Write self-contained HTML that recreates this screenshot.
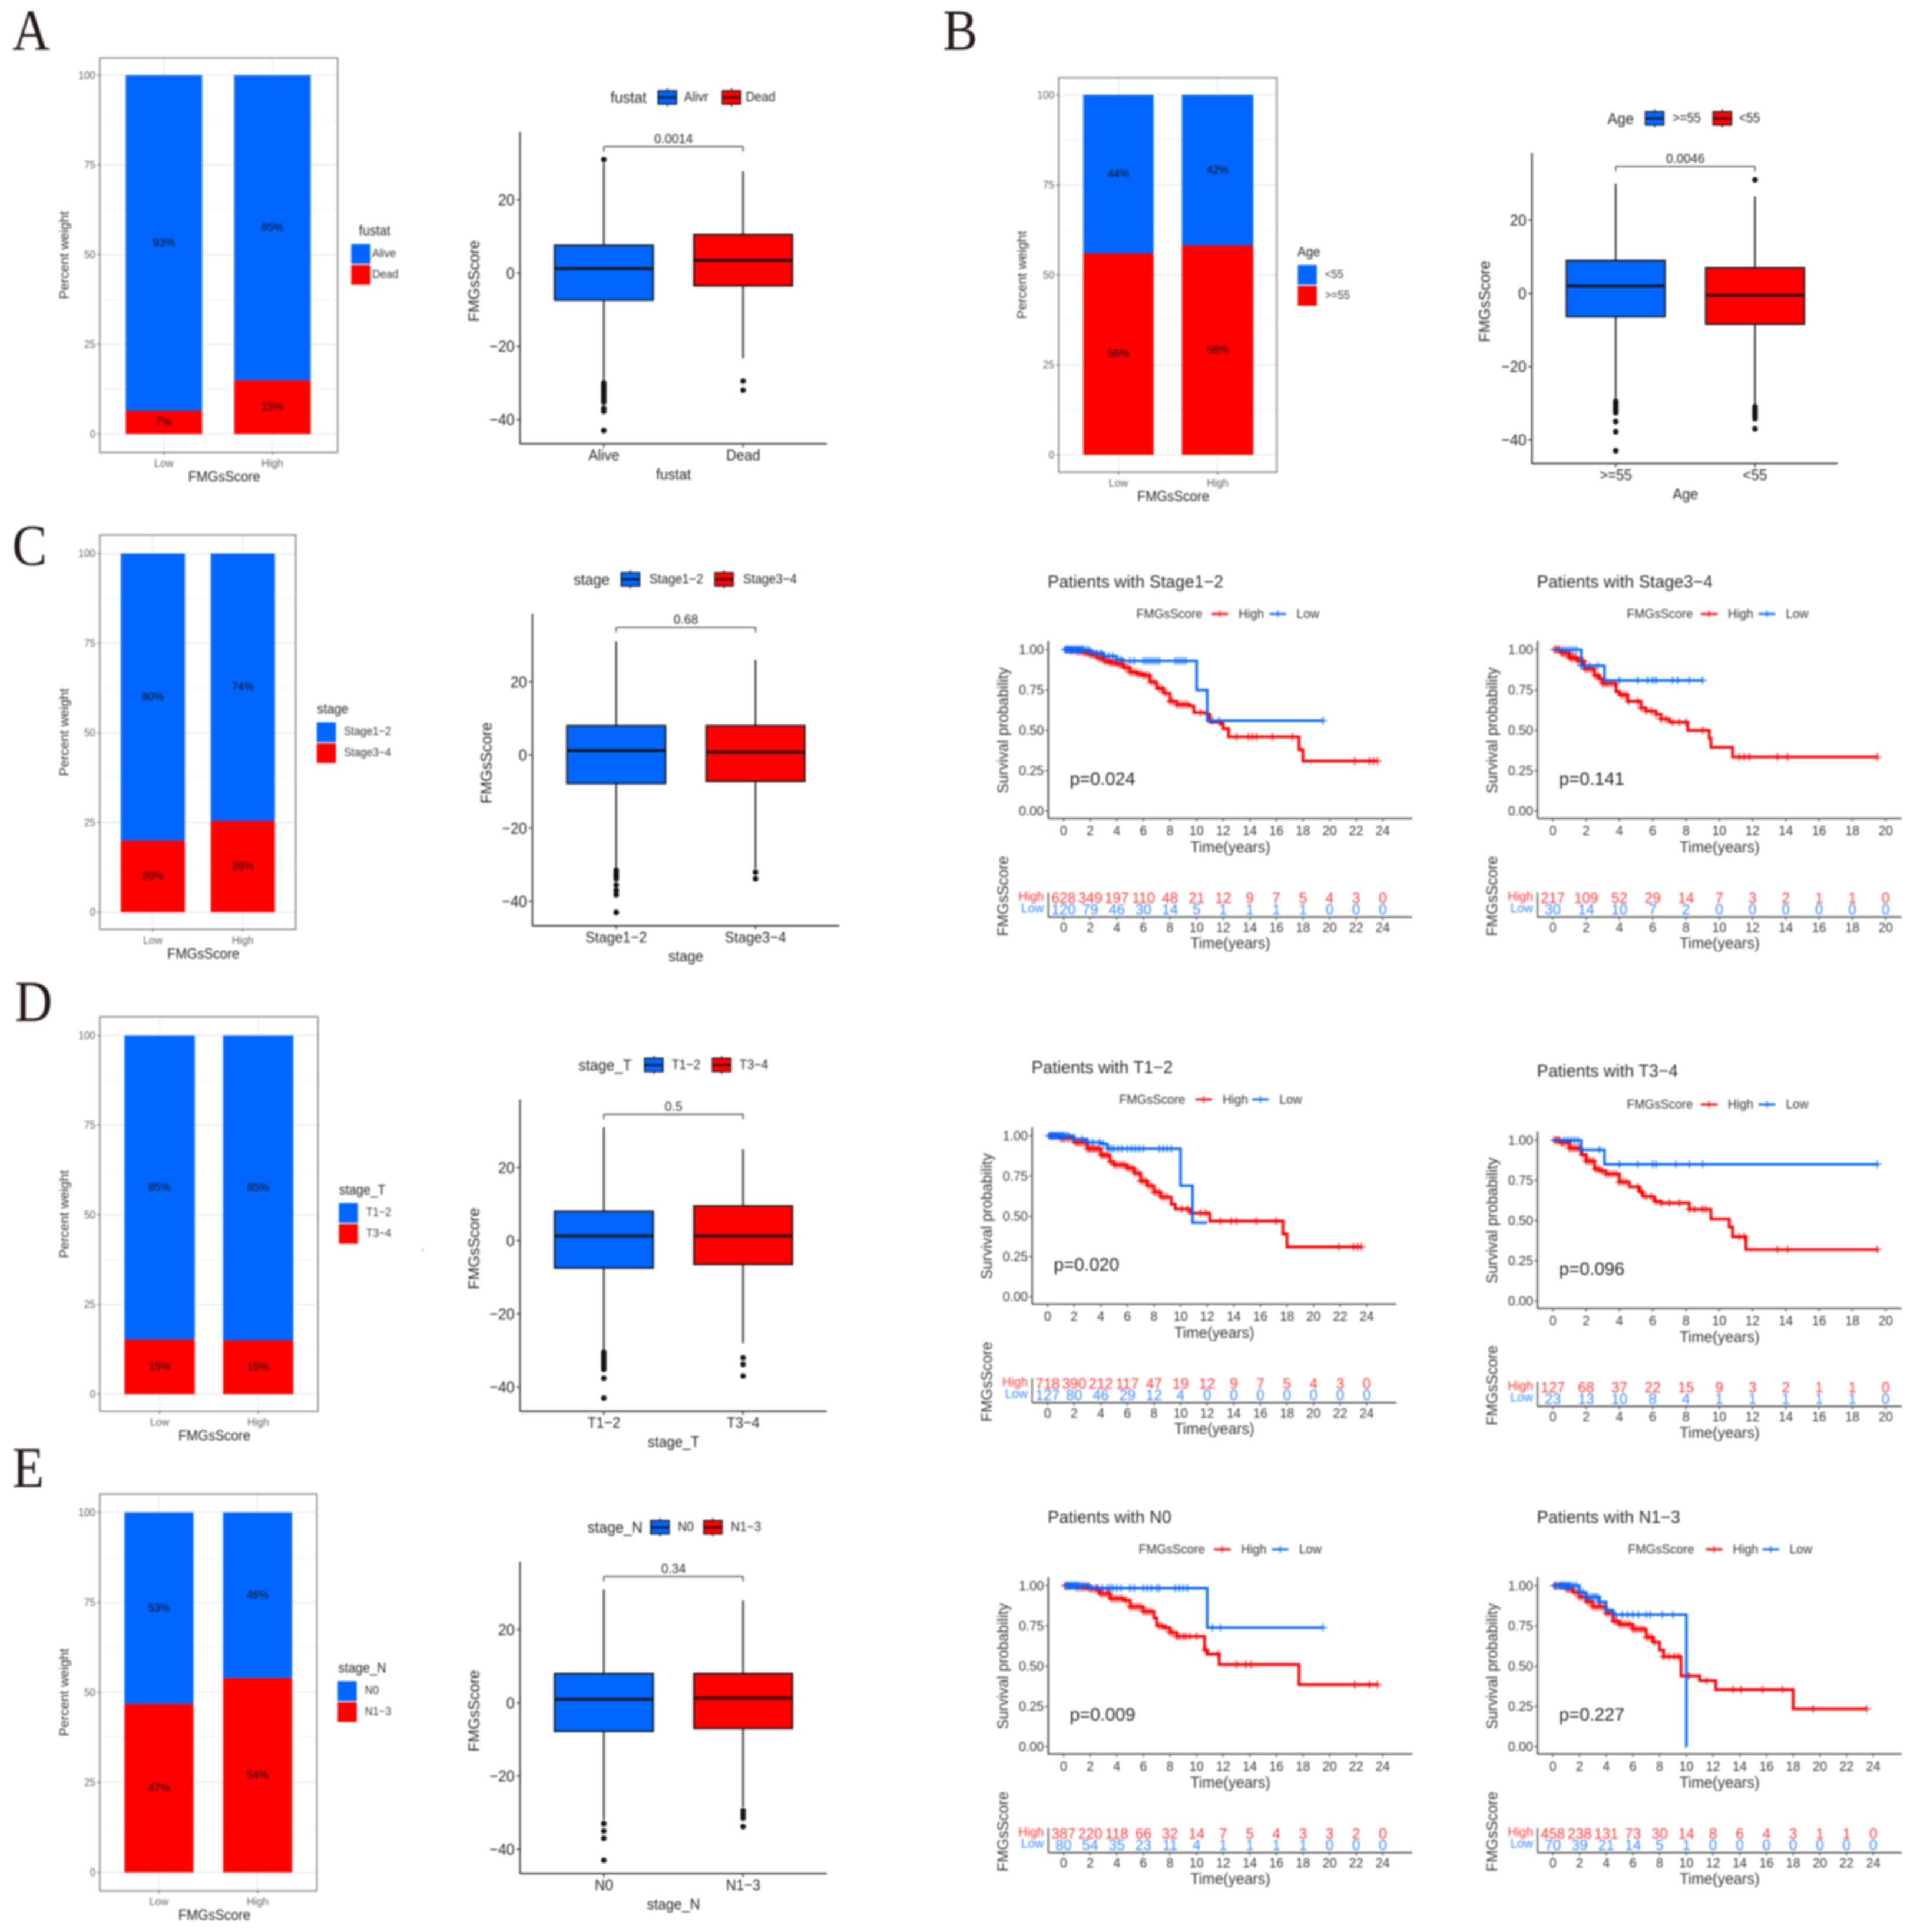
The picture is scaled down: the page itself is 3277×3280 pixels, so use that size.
<!DOCTYPE html>
<html lang="en">
<head>
<meta charset="utf-8">
<title>FMGsScore composite figure</title>
<style>
html,body{margin:0;padding:0;background:#fff;}
svg{display:block;filter:blur(1.5px);}
text{font-family:"Liberation Sans",Arial,sans-serif;dominant-baseline:central;}
</style>
</head>
<body>
<svg id="fig" xmlns="http://www.w3.org/2000/svg" width="3277" height="3280" viewBox="0 0 1566 1567.4"></svg>
<script>
/* ---------- stacked bar data (percent of the red, lower segment) ---------- */
const barCategories = ['Low','High'];
const barTicks = [0,25,50,75,100];
const barMinorTicks = [12.5,37.5,62.5,87.5];
const barALower = [6.5,15];
const barALowerText = ['7%','15%'];
const barAUpperText = ['93%','85%'];
const barBLower = [56,58.2];
const barBLowerText = ['56%','58%'];
const barBUpperText = ['44%','42%'];
const barCLower = [20,25.5];
const barCLowerText = ['20%','26%'];
const barCUpperText = ['80%','74%'];
const barDLower = [15.2,15];
const barDLowerText = ['15%','15%'];
const barDUpperText = ['85%','85%'];
const barELower = [46.8,54];
const barELowerText = ['47%','54%'];
const barEUpperText = ['53%','46%'];

/* ---------- box plot data ---------- */
const boxTicks = [20,0,-20,-40];
const boxACats = ['Alive','Dead'];
const boxALegend = ['Alivr','Dead'];
const boxAQ3 = [7.6,10.5];
const boxAMed = [1.2,3.5];
const boxAQ1 = [-7.4,-3.5];
const boxAHi = [30,27.8];
const boxALo = [-29.5,-23.3];
const boxAOut0 = [31,-30,-30.8,-31.5,-32.2,-33,-33.8,-34.6,-35.3,-37,-37.8,-43];
const boxAOut1 = [-29.5,-32];
const boxBCats = ['>=55','<55'];
const boxBQ3 = [9,7];
const boxBMed = [2,-0.5];
const boxBQ1 = [-6.4,-8.4];
const boxBHi = [30,26.5];
const boxBLo = [-29,-30.5];
const boxBOut0 = [-29.5,-30.2,-31,-31.8,-32.6,-35,-37.8,-43];
const boxBOut1 = [31,-31,-31.8,-32.6,-33.4,-34.2,-37];
const boxCCats = ['Stage1\u22122','Stage3\u22124'];
const boxCQ3 = [8,8];
const boxCMed = [1.2,0.8];
const boxCQ1 = [-7.8,-7.2];
const boxCHi = [31,26];
const boxCLo = [-31,-31];
const boxCOut0 = [-31.5,-32.3,-33,-33.8,-35.5,-37,-38.2,-43];
const boxCOut1 = [-32,-33.8];
const boxDCats = ['T1\u22122','T3\u22124'];
const boxDQ3 = [8,9.5];
const boxDMed = [1.3,1.3];
const boxDQ1 = [-7.5,-6.5];
const boxDHi = [31,25];
const boxDLo = [-30,-28];
const boxDOut0 = [-30.5,-31.3,-32,-32.8,-33.6,-34.4,-35.2,-37.6,-43];
const boxDOut1 = [-32,-33.8,-37];
const boxECats = ['N0','N1\u22123'];
const boxEQ3 = [8,8];
const boxEMed = [1,1.3];
const boxEQ1 = [-7.8,-7];
const boxEHi = [31,28];
const boxELo = [-32,-28.5];
const boxEOut0 = [-33,-35,-37,-43];
const boxEOut1 = [-29.5,-30.5,-31.5,-33.8];

/* ---------- Kaplan-Meier data ---------- */
const kmYTicks = [0,0.25,0.5,0.75,1];
const kmYTickText = ['0.00','0.25','0.50','0.75','1.00'];
const kmTicks24 = [0,2,4,6,8,10,12,14,16,18,20,22,24];
const kmTicks20 = [0,2,4,6,8,10,12,14,16,18,20];

const s12HighT = [0,0.5,1,1.5,2,2.5,3,3.5,4,4.5,5,5.5,6,6.5,7,7.5,8,8.5,9.5,9.8,10.8,11,11.8,12,12.4,17.7,18,23.6];
const s12HighS = [1,0.995,0.99,0.98,0.97,0.95,0.93,0.92,0.91,0.89,0.86,0.85,0.84,0.80,0.76,0.73,0.68,0.66,0.65,0.61,0.60,0.55,0.54,0.51,0.46,0.38,0.31,0.31];
const s12HighC = [0.1,0.2,0.3,0.4,0.5,0.65,0.8,1,1.15,1.3,1.45,1.6,1.8,2,2.15,2.3,2.45,2.6,2.75,2.9,3.05,3.2,3.35,3.5,3.65,3.8,3.95,4.1,4.25,4.4,4.6,4.8,5,5.2,5.4,5.6,5.8,6,6.2,6.4,6.6,6.8,7.2,7.4,7.7,8,8.2,8.5,8.7,8.9,9.1,9.3,10.3,10.8,11.7,13,13.9,14.2,14.5,15.7,17.2,21.9,23,23.3,23.6];
const s12LowT = [0,1.5,2,3,4,4.5,10,10.8,19.5];
const s12LowS = [1,1,0.98,0.96,0.94,0.93,0.75,0.56,0.56];
const s12LowC = [0.1,0.2,0.3,0.4,0.5,0.6,0.7,0.8,0.9,1,1.1,1.2,1.3,1.4,1.5,1.7,1.9,2.2,2.5,2.8,3.1,3.4,3.7,4,4.3,5,5.3,6,6.2,6.4,6.6,6.8,7,7.2,8.4,8.6,8.8,9,9.2,11.2,11.7,19.5];
const s34HighT = [0,0.5,1,1.5,1.9,2.5,2.8,3,3.8,4,4.5,4.7,5.3,5.6,6.2,6.5,7,7.1,8.1,9.4,9.5,10.8,19.5];
const s34HighS = [1,0.98,0.95,0.93,0.88,0.84,0.82,0.79,0.74,0.72,0.68,0.68,0.64,0.62,0.60,0.57,0.55,0.55,0.50,0.45,0.395,0.335,0.335];
const s34HighC = [0.1,0.2,0.3,0.4,0.5,0.6,0.7,0.8,0.9,1,1.1,1.2,1.3,1.4,1.5,1.65,1.8,1.95,2.1,2.25,2.4,2.55,2.7,2.85,3,3.15,3.3,3.5,3.7,4.1,4.25,4.4,4.55,5.1,5.3,5.6,5.9,6.2,6.5,6.8,7.2,7.6,8,9,11.2,11.5,11.8,13.5,14.1,19.5];
const s34LowT = [0,1.7,3.1,9];
const s34LowS = [1,0.90,0.81,0.81];
const s34LowC = [0.6,0.8,1,1.2,1.4,1.7,2.2,2.7,4,5.1,5.7,6,6.2,7.2,7.5,8.2,9];
const t12HighT = [0,1,2,3,4,4.7,5,6,6.5,7,7.5,8,8.5,9.3,9.6,10.7,12.2,17.7,18,23.6];
const t12HighS = [1,0.985,0.96,0.92,0.88,0.84,0.82,0.80,0.77,0.72,0.69,0.65,0.62,0.575,0.545,0.52,0.47,0.39,0.31,0.31];
const t12HighC = [0.1,0.25,0.4,0.55,0.7,0.85,1,1.15,1.3,1.5,1.7,1.9,2.1,2.25,2.4,2.55,2.7,2.85,3,3.15,3.3,3.45,3.6,3.75,3.9,4.05,4.2,4.35,4.5,4.75,5,5.2,5.4,5.6,5.8,6,6.2,6.4,6.6,6.8,7,7.2,7.4,7.6,7.8,8,8.2,8.4,8.6,8.8,9,10.1,10.5,11.5,11.9,13,13.8,14.2,15.7,17.2,21.9,23,23.3,23.6];
const t12LowT = [0,1.5,2,3,4,4.5,10,10.9,12];
const t12LowS = [1,1,0.98,0.96,0.95,0.92,0.69,0.46,0.46];
const t12LowC = [0.1,0.2,0.3,0.4,0.5,0.6,0.7,0.8,0.9,1,1.1,1.2,1.3,1.45,1.6,2,2.6,3,3.4,3.9,4.2,4.6,4.8,5,5.3,5.6,6,6.3,6.6,6.9,7.2,8.4,8.7,9,9.3];
const t34HighT = [0,0.5,1,1.7,2,2.5,2.8,3.2,4,4.6,5.2,5.4,6.1,6.5,8.2,9.5,10.6,10.8,11.6,19.5];
const t34HighS = [1,0.985,0.95,0.91,0.87,0.82,0.81,0.79,0.74,0.71,0.68,0.65,0.62,0.61,0.57,0.51,0.46,0.40,0.32,0.32];
const t34HighC = [0.1,0.2,0.3,0.4,0.5,0.6,0.7,0.85,1,1.15,1.3,1.45,1.6,1.8,2,2.15,2.3,2.45,2.6,2.75,2.95,3.2,3.4,3.6,3.8,4,4.2,4.4,5.1,5.3,5.6,5.9,6.2,6.5,7,7.6,8.2,8.5,9,9.2,11.2,11.5,13.5,14.1,19.5];
const t34LowT = [0,1.7,3.1,19.5];
const t34LowS = [1,0.94,0.85,0.85];
const t34LowC = [0.7,0.9,1.1,1.3,1.5,1.7,2.8,4,5.1,6,6.2,7.4,8.2,9,19.5];
const n0HighT = [0,1,2,2.7,3.5,4.5,5,6,6.8,7,7.5,8,8.5,10.6,10.8,11.7,17.7,23.6];
const n0HighS = [1,0.99,0.98,0.95,0.92,0.91,0.87,0.84,0.80,0.75,0.74,0.71,0.685,0.60,0.575,0.51,0.385,0.385];
const n0HighC = [0.1,0.2,0.3,0.45,0.6,0.8,1,1.2,1.4,1.6,1.8,2,2.2,2.4,2.6,2.8,3,3.2,3.4,3.6,3.8,4,4.2,4.4,4.7,5,5.2,5.4,5.6,5.8,6,6.2,6.4,6.6,7.2,7.4,7.7,8,8.2,8.5,8.7,9,9.2,9.5,10,10.7,11.6,13,13.7,14.1,21.9,23,23.6];
const n0LowT = [0,2,10.8,19.5];
const n0LowS = [1,0.985,0.74,0.74];
const n0LowC = [0.2,0.3,0.4,0.5,0.6,0.7,0.8,0.9,1,1.1,1.2,1.35,1.5,1.7,1.9,2.5,2.9,3.3,3.5,3.7,4,4.3,5,5.3,6,6.3,6.6,7,7.2,8.4,8.7,9,9.3,11.2,11.8,19.5];
const n13HighT = [0,1,1.5,2,2.5,3,4,4.5,5,6,7,7.5,8,8.3,9.6,10.7,11,12.2,18,23.5];
const n13HighS = [1,0.98,0.96,0.93,0.90,0.87,0.83,0.78,0.76,0.73,0.68,0.65,0.60,0.56,0.44,0.44,0.41,0.355,0.235,0.235];
const n13HighC = [0.1,0.2,0.3,0.45,0.6,0.75,0.9,1.05,1.2,1.4,1.6,1.8,2,2.2,2.4,2.6,2.8,3,3.2,3.4,3.6,3.8,4,4.2,4.4,4.6,4.8,5,5.2,5.4,5.6,5.8,6,6.2,6.4,6.6,6.8,7,7.2,7.4,7.6,8.3,8.7,9.1,9.4,10.2,11.5,13.5,14.1,15.7,17.2,19.5,23.5];
const n13LowT = [0,1.5,2,2.5,3.5,4,4.5,10,10.01];
const n13LowS = [1,1,0.96,0.93,0.90,0.85,0.82,0,0];
const n13LowC = [0.1,0.3,0.5,0.6,0.7,0.8,0.9,1,1.1,1.2,1.3,1.45,1.6,1.8,2,2.25,2.5,2.7,2.9,3.05,3.2,3.35,3.5,4,4.7,5.2,5.6,6,6.4,7,7.3,8.2,9];

const riskS12High = [628,349,197,110,48,21,12,9,7,5,4,3,0];
const riskS12Low = [120,79,46,30,14,5,1,1,1,1,0,0,0];
const riskS34High = [217,109,52,29,14,7,3,2,1,1,0];
const riskS34Low = [30,14,10,7,2,0,0,0,0,0,0];
const riskT12High = [718,390,212,117,47,19,12,9,7,5,4,3,0];
const riskT12Low = [127,80,46,29,12,4,0,0,0,0,0,0,0];
const riskT34High = [127,68,37,22,15,9,3,2,1,1,0];
const riskT34Low = [23,13,10,8,4,1,1,1,1,1,0];
const riskN0High = [387,220,118,66,32,14,7,5,4,3,3,2,0];
const riskN0Low = [80,54,35,23,11,4,1,1,1,1,0,0,0];
const riskN13High = [458,238,131,73,30,14,8,6,4,3,1,1,0];
const riskN13Low = [70,39,21,14,5,1,0,0,0,0,0,0,0];

/* ---------- drawing helpers ---------- */
const SVGNS = 'http://www.w3.org/2000/svg';
const root = document.getElementById('fig');
const BLUE = '#0066ff', RED = '#ff0000';

function mk(parent, tag, attrs){
  const el = document.createElementNS(SVGNS, tag);
  for (const k in attrs) el.setAttribute(k, attrs[k]);
  parent.appendChild(el);
  return el;
}
function group(parent, name){
  const g = mk(parent, 'g', {});
  
  
  return g;
}
function txt(parent, name, x, y, str, size, anchor, fill, rot, sx){
  const a = {x:x, y:y, 'font-size':size, 'text-anchor':anchor||'middle', fill:fill||'#222'};
  if (rot) a.transform = 'rotate(-90 ' + x + ' ' + y + ')';
  if (sx) a.transform = 'translate(' + x + ' 0) scale(' + sx + ' 1) translate(' + (-x) + ' 0)';
  const t = mk(parent, 'text', a);
  t.textContent = str;
  
  
  return t;
}
function line(parent, name, x1, y1, x2, y2, stroke, w){
  const l = mk(parent, 'line', {x1:x1, y1:y1, x2:x2, y2:y2, stroke:stroke, 'stroke-width':w});
  
  
  return l;
}
function rect(parent, name, x, y, w, h, fill, stroke, sw){
  const r = mk(parent, 'rect', {x:x, y:y, width:w, height:h, fill:fill, stroke:stroke||'none', 'stroke-width':sw||0});
  
  
  return r;
}

/* ---------- stacked bar panel ---------- */
function drawBar(c){
  const g = group(root, 'stacked-bar-' + c.id);
  const y = p => c.y0 - (c.y0 - c.y100) * p / 100;
  barMinorTicks.forEach(t => line(g, 'minor-gridline', c.fx0, y(t), c.fx1, y(t), '#f2f2f2', 0.7));
  barTicks.forEach(t => line(g, 'major-gridline', c.fx0, y(t), c.fx1, y(t), '#ebebeb', 1.2));
  barCategories.forEach((cat, i) => {
    const cx = (c.bars[i][0] + c.bars[i][1]) / 2;
    line(g, 'vertical-gridline', cx, c.fy0, cx, c.fy1, '#ebebeb', 1);
  });
  rect(g, 'plot-frame', c.fx0, c.fy0, c.fx1 - c.fx0, c.fy1 - c.fy0, 'none', '#7f7f7f', 1.1);
  barTicks.forEach(t => {
    line(g, 'y-tick', c.fx0 - 2, y(t), c.fx0, y(t), '#555', 0.7);
    txt(g, 'y-tick-label', c.fx0 - 3.5, y(t), String(t), 8.8, 'end', '#5a5a5a', 0, 0.95);
  });
  barCategories.forEach((cat, i) => {
    const x0 = c.bars[i][0], x1 = c.bars[i][1], cx = (x0 + x1) / 2, v = c.lower[i];
    rect(g, 'bar-' + cat.toLowerCase() + '-upper', x0, y(100), x1 - x0, y(v) - y(100), BLUE);
    rect(g, 'bar-' + cat.toLowerCase() + '-lower', x0, y(v), x1 - x0, y(0) - y(v), RED);
    txt(g, 'percent-label-upper', cx, y((100 + v) / 2), c.upperText[i], 9.4, 'middle', '#111', 0, 0.95);
    txt(g, 'percent-label-lower', cx, y(v / 2), c.lowerText[i], 9.4, 'middle', '#111', 0, 0.95);
    line(g, 'x-tick', cx, c.fy1, cx, c.fy1 + 2, '#555', 0.7);
    txt(g, 'x-tick-label', cx, c.fy1 + 8.5, cat, 9, 'middle', '#5a5a5a', 0, 0.95);
  });
  txt(g, 'y-axis-title', c.ytx, (c.fy0 + c.fy1) / 2, 'Percent weight', 10.8, 'middle', '#333', 1);
  txt(g, 'x-axis-title', c.xtx, c.fy1 + 20, 'FMGsScore', 11.8, 'middle', '#222', 0, 0.93);
  txt(g, 'legend-title', c.lx + c.ltdx, c.ly - 11, c.legendTitle, 11.6, 'middle', '#222', 0, 0.9);
  rect(g, 'legend-key-upper', c.lx, c.ly, 15.5, 16, BLUE);
  rect(g, 'legend-key-lower', c.lx, c.ly + 17, 15.5, 16, RED);
  txt(g, 'legend-label-upper', c.lx + c.ltx, c.ly + 7.5, c.legendText[0], 9.6, 'start', '#333', 0, 0.93);
  txt(g, 'legend-label-lower', c.lx + c.ltx, c.ly + 24.5, c.legendText[1], 9.6, 'start', '#333', 0, 0.93);
}

/* ---------- box plot panel ---------- */
function drawBox(c, d){
  const g = group(root, 'box-plot-' + c.id);
  const y = v => c.zero - v * c.unit;
  line(g, 'y-axis-line', c.ax, c.top, c.ax, c.bottom, '#222', 1.1);
  line(g, 'x-axis-line', c.ax, c.bottom, c.right, c.bottom, '#222', 1.2);
  boxTicks.forEach(t => {
    line(g, 'y-tick', c.ax - 3, y(t), c.ax, y(t), '#222', 0.9);
    txt(g, 'y-tick-label', c.ax - 4.5, y(t), String(t).replace('-', '\u2212'), 13, 'end', '#222', 0, 0.92);
  });
  d.cats.forEach((cat, i) => {
    const cx = c.xs[i];
    line(g, 'x-tick', cx, c.bottom, cx, c.bottom + 3, '#222', 0.9);
    txt(g, 'x-tick-label', cx, c.bottom + 9.5, cat, 12.6, 'middle', '#222', 0, 0.92);
    line(g, 'whisker', cx, y(d.hi[i]), cx, y(d.lo[i]), '#111', 1.2);
    rect(g, 'box-' + i, cx - c.bw / 2, y(d.q3[i]), c.bw, y(d.q1[i]) - y(d.q3[i]), i === 0 ? BLUE : RED, '#111', 1.2);
    line(g, 'median-line', cx - c.bw / 2, y(d.med[i]), cx + c.bw / 2, y(d.med[i]), '#111', 2.2);
    d.out[i].forEach(v => {
      const o = mk(g, 'circle', {cx:cx, cy:y(v), r:2.3, fill:'#111'});
      
      
    });
  });
  txt(g, 'y-axis-title', c.ytx, (c.top + c.bottom) / 2 - 5.5, 'FMGsScore', 12.4, 'middle', '#222', 1);
  txt(g, 'x-axis-title', (c.xs[0] + c.xs[1]) / 2, c.bottom + 25, c.title, 12.6, 'middle', '#222', 0, 0.92);
  line(g, 'bracket-top', c.xs[0], c.brY, c.xs[1], c.brY, '#333', 0.9);
  line(g, 'bracket-left', c.xs[0], c.brY, c.xs[0], c.brY + 4, '#333', 0.9);
  line(g, 'bracket-right', c.xs[1], c.brY, c.xs[1], c.brY + 4, '#333', 0.9);
  txt(g, 'p-value-label', (c.xs[0] + c.xs[1]) / 2, c.brY - 6.5, c.pText, 10.8, 'middle', '#222', 0, 0.95);
  txt(g, 'legend-title', c.lty[0], c.lty[1], c.title, 13, 'middle', '#222', 0, 0.92);
  (d.legend || d.cats).forEach((cat, i) => {
    const kx = c.keys[i], ky = c.lty[1], fill = i === 0 ? BLUE : RED;
    line(g, 'legend-key-whisker', kx + 7.5, ky - 7.5, kx + 7.5, ky + 7.5, '#111', 0.9);
    rect(g, 'legend-key', kx, ky - 5.5, 15, 11, fill, '#111', 0.9);
    line(g, 'legend-key-median', kx, ky, kx + 15, ky, '#111', 1.4);
    txt(g, 'legend-label', c.keyLabels[i], ky - 0.5, cat, 11, 'start', '#222', 0, 0.92);
  });
}

/* ---------- Kaplan-Meier panel ---------- */
function survAt(ts, ss, t){
  let v = ss[0];
  for (let i = 0; i < ts.length; i++) { if (ts[i] <= t) v = ss[i]; else break; }
  return v;
}
function drawKm(c, d){
  const g = group(root, 'survival-panel-' + c.id);
  const x = t => c.x0 + t * c.sx;
  const y = s => c.y0 - (c.y0 - c.y1) * s;
  txt(g, 'panel-title', c.titleX, c.titleY, d.title, 14.2, 'start', '#2a2a2a', 0, 0.98);
  /* legend */
  txt(g, 'legend-title', c.lx, c.ly, 'FMGsScore', 10.5, 'start', '#333', 0, 0.96);
  line(g, 'legend-line-high', c.lh, c.ly, c.lh + 13.5, c.ly, RED, 1.7);
  line(g, 'legend-mark-high', c.lh + 6.7, c.ly - 3, c.lh + 6.7, c.ly + 3, RED, 0.8);
  txt(g, 'legend-label-high', c.lh + 22, c.ly, 'High', 10.5, 'start', '#333', 0, 0.96);
  line(g, 'legend-line-low', c.ll, c.ly, c.ll + 13.5, c.ly, BLUE, 1.7);
  line(g, 'legend-mark-low', c.ll + 6.7, c.ly - 3, c.ll + 6.7, c.ly + 3, BLUE, 0.8);
  txt(g, 'legend-label-low', c.ll + 22, c.ly, 'Low', 10.5, 'start', '#333', 0, 0.96);
  /* axes */
  const ax = c.x0 - 12.5, top = c.y1 - 7, bottom = c.y0 + 6, right = c.ax1;
  line(g, 'y-axis-line', ax, top, ax, bottom, '#444', 1.2);
  line(g, 'x-axis-line', ax, bottom, right, bottom, '#444', 1.2);
  kmYTicks.forEach((t, i) => {
    line(g, 'y-tick', ax - 2.5, y(t), ax, y(t), '#444', 0.8);
    txt(g, 'y-tick-label', ax - 3.5, y(t), kmYTickText[i], 11, 'end', '#333', 0, 0.95);
  });
  d.ticks.forEach(t => {
    line(g, 'x-tick', x(t), bottom, x(t), bottom + 2.5, '#444', 0.8);
    txt(g, 'x-tick-label', x(t), bottom + 10, String(t), 11, 'middle', '#333', 0, 0.95);
    line(g, 'risk-x-tick', x(t), c.riskAxis, x(t), c.riskAxis + 2.5, '#444', 0.8);
    txt(g, 'risk-x-tick-label', x(t), c.riskAxis + 8.5, String(t), 11, 'middle', '#333', 0, 0.95);
  });
  txt(g, 'y-axis-title', c.ytx, (y(1) + y(0)) / 2, 'Survival probability', 12.2, 'middle', '#333', 1);
  txt(g, 'x-axis-title', (ax + right) / 2, bottom + 23, 'Time(years)', 12.8, 'middle', '#333', 0, 0.96);
  txt(g, 'p-value', x(0) + 5, y(0) - 26, d.p, 14.6, 'start', '#222', 0, 1);
  /* curves */
  [[d.highT, d.highS, d.highC, RED, 2.3, 'high'], [d.lowT, d.lowS, d.lowC, BLUE, 2, 'low']].forEach(row => {
    const ts = row[0], ss = row[1], cs = row[2];
    let path = 'M' + x(ts[0]) + ' ' + y(ss[0]);
    for (let i = 1; i < ts.length; i++) {
      path += 'H' + x(ts[i]) + 'V' + y(ss[i]);
    }
    const p = mk(g, 'path', {d:path, fill:'none', stroke:row[3], 'stroke-width':row[4]});
    
    
    cs.forEach(t => {
      const cy = y(survAt(ts, ss, t)), cx = x(t);
      line(g, 'censor-mark-h-' + row[5], cx - 3.2, cy, cx + 3.2, cy, row[3], 0.9);
      line(g, 'censor-mark-v-' + row[5], cx, cy - 3.2, cx, cy + 3.2, row[3], 0.9);
    });
  });
  /* risk table */
  line(g, 'risk-y-axis-line', ax, c.riskAxis - 20, ax, c.riskAxis, '#444', 1);
  line(g, 'risk-x-axis-line', ax, c.riskAxis, right, c.riskAxis, '#444', 1.2);
  txt(g, 'risk-label-high', ax - 3.5, c.riskAxis - 17, 'High', 10.6, 'end', '#ff3333', 0, 0.95);
  txt(g, 'risk-label-low', ax - 3.5, c.riskAxis - 7.5, 'Low', 10.6, 'end', '#3388ff', 0, 0.95);
  d.ticks.forEach((t, i) => {
    txt(g, 'risk-count-high', x(t), c.riskAxis - 15, String(d.riskHigh[i]), 11.8, 'middle', '#ff3333', 0, 1);
    txt(g, 'risk-count-low', x(t), c.riskAxis - 5.6, String(d.riskLow[i]), 11.8, 'middle', '#3388ff', 0, 1);
  });
  txt(g, 'risk-y-axis-title', c.ytx, c.riskAxis - 17, 'FMGsScore', 12.2, 'middle', '#333', 1);
  txt(g, 'risk-x-axis-title', (ax + right) / 2, c.riskAxis + 21, 'Time(years)', 12.8, 'middle', '#333', 0, 0.96);
}

/* ---------- panel letters ---------- */
[['A',10,25],['B',765,25],['C',10,443],['D',12,813],['E',10,1191]].forEach(p => {
  const l = mk(root, 'text', {x:p[1], y:p[2], 'font-size':47, fill:'#231815', 'text-anchor':'start',
    transform:'translate(' + p[1] + ' 0) scale(0.9 1) translate(' + (-p[1]) + ' 0)'});
  l.setAttribute('style', 'font-family:"Liberation Serif",serif');
  l.textContent = p[0];
  
  
});
const strayDot = mk(root, 'circle', {cx:343, cy:1014, r:1, fill:'#bbb'});



/* ---------- stacked bars ---------- */
drawBar({id:'a', fx0:81, fx1:274, fy0:47, fy1:367, y100:61, y0:352, bars:[[102,164],[190,252]], lower:barALower, lowerText:barALowerText, upperText:barAUpperText, ytx:52, xtx:182, lx:285, ly:198, ltdx:19, ltx:17, legendTitle:'fustat', legendText:['Alive','Dead']});
drawBar({id:'b', fx0:859, fx1:1036, fy0:63, fy1:383, y100:77, y0:369, bars:[[879,936],[959,1017]], lower:barBLower, lowerText:barBLowerText, upperText:barBUpperText, ytx:829, xtx:952, lx:1053, ly:215, ltdx:9, ltx:22, legendTitle:'Age', legendText:['<55','>=55']});
drawBar({id:'c', fx0:81, fx1:240, fy0:434, fy1:754, y100:449, y0:740, bars:[[98,150],[171,223]], lower:barCLower, lowerText:barCLowerText, upperText:barCUpperText, ytx:52, xtx:165, lx:257, ly:586, ltdx:13, ltx:22, legendTitle:'stage', legendText:['Stage1\u22122','Stage3\u22124']});
drawBar({id:'d', fx0:81, fx1:258, fy0:825, fy1:1145, y100:840, y0:1131, bars:[[101,158],[181,238]], lower:barDLower, lowerText:barDLowerText, upperText:barDUpperText, ytx:52, xtx:174, lx:275, ly:976, ltdx:19, ltx:22, legendTitle:'stage_T', legendText:['T1\u22122','T3\u22124']});
drawBar({id:'e', fx0:81, fx1:257, fy0:1212, fy1:1534, y100:1227, y0:1519, bars:[[101,157],[181,237]], lower:barELower, lowerText:barELowerText, upperText:barEUpperText, ytx:52, xtx:174, lx:274, ly:1364, ltdx:20, ltx:22, legendTitle:'stage_N', legendText:['N0','N1\u22123']});

/* ---------- box plots ---------- */
drawBox({id:'a', ax:422, right:671, top:107, bottom:360, zero:221.5, unit:2.97, xs:[490,603], bw:80, ytx:385, title:'fustat', brY:119, pText:'0.0014', lty:[510,79], keys:[534,586], keyLabels:[555,605]},
  {cats:boxACats, legend:boxALegend, q3:boxAQ3, med:boxAMed, q1:boxAQ1, hi:boxAHi, lo:boxALo, out:[boxAOut0, boxAOut1]});
drawBox({id:'b', ax:1243, right:1491, top:124, bottom:376, zero:238, unit:2.97, xs:[1311,1424], bw:80, ytx:1205, title:'Age', brY:135, pText:'0.0046', lty:[1315,96], keys:[1335,1390], keyLabels:[1357,1411]},
  {cats:boxBCats, q3:boxBQ3, med:boxBMed, q1:boxBQ1, hi:boxBHi, lo:boxBLo, out:[boxBOut0, boxBOut1]});
drawBox({id:'c', ax:432, right:681, top:498, bottom:751, zero:612.5, unit:2.97, xs:[500,613], bw:80, ytx:395, title:'stage', brY:509, pText:'0.68', lty:[480,470], keys:[504,580], keyLabels:[527,603]},
  {cats:boxCCats, q3:boxCQ3, med:boxCMed, q1:boxCQ1, hi:boxCHi, lo:boxCLo, out:[boxCOut0, boxCOut1]});
drawBox({id:'d', ax:422, right:671, top:892, bottom:1145, zero:1006.5, unit:2.97, xs:[490,603], bw:80, ytx:385, title:'stage_T', brY:904, pText:'0.5', lty:[491,864], keys:[523,578], keyLabels:[545,600]},
  {cats:boxDCats, q3:boxDQ3, med:boxDMed, q1:boxDQ1, hi:boxDHi, lo:boxDLo, out:[boxDOut0, boxDOut1]});
drawBox({id:'e', ax:422, right:671, top:1267, bottom:1520, zero:1381.5, unit:2.97, xs:[490,603], bw:80, ytx:385, title:'stage_N', brY:1279, pText:'0.34', lty:[499,1239], keys:[528,571], keyLabels:[550,593]},
  {cats:boxECats, q3:boxEQ3, med:boxEMed, q1:boxEQ1, hi:boxEHi, lo:boxELo, out:[boxEOut0, boxEOut1]});

/* ---------- survival panels ---------- */
drawKm({id:'stage1-2', x0:863, sx:10.79, y1:527, y0:658, ax1:1146, ytx:814, titleX:850, titleY:472, lx:922, ly:498, lh:983, ll:1030, riskAxis:744},
  {title:'Patients with Stage1\u22122', p:'p=0.024', ticks:kmTicks24, highT:s12HighT, highS:s12HighS, highC:s12HighC, lowT:s12LowT, lowS:s12LowS, lowC:s12LowC, riskHigh:riskS12High, riskLow:riskS12Low});
drawKm({id:'stage3-4', x0:1260, sx:13.5, y1:527, y0:658, ax1:1543, ytx:1211, titleX:1247, titleY:472, lx:1320, ly:498, lh:1380, ll:1427, riskAxis:744},
  {title:'Patients with Stage3\u22124', p:'p=0.141', ticks:kmTicks20, highT:s34HighT, highS:s34HighS, highC:s34HighC, lowT:s34LowT, lowS:s34LowS, lowC:s34LowC, riskHigh:riskS34High, riskLow:riskS34Low});
drawKm({id:'t1-2', x0:850, sx:10.79, y1:921.5, y0:1052, ax1:1133, ytx:801, titleX:837, titleY:866, lx:908, ly:892, lh:970, ll:1016, riskAxis:1138},
  {title:'Patients with T1\u22122', p:'p=0.020', ticks:kmTicks24, highT:t12HighT, highS:t12HighS, highC:t12HighC, lowT:t12LowT, lowS:t12LowS, lowC:t12LowC, riskHigh:riskT12High, riskLow:riskT12Low});
drawKm({id:'t3-4', x0:1260, sx:13.5, y1:925, y0:1055.5, ax1:1543, ytx:1211, titleX:1247, titleY:869, lx:1320, ly:896, lh:1380, ll:1427, riskAxis:1141},
  {title:'Patients with T3\u22124', p:'p=0.096', ticks:kmTicks20, highT:t34HighT, highS:t34HighS, highC:t34HighC, lowT:t34LowT, lowS:t34LowS, lowC:t34LowC, riskHigh:riskT34High, riskLow:riskT34Low});
drawKm({id:'n0', x0:863, sx:10.79, y1:1286.5, y0:1417, ax1:1146, ytx:814, titleX:850, titleY:1231, lx:924, ly:1257, lh:985, ll:1032, riskAxis:1503},
  {title:'Patients with N0', p:'p=0.009', ticks:kmTicks24, highT:n0HighT, highS:n0HighS, highC:n0HighC, lowT:n0LowT, lowS:n0LowS, lowC:n0LowC, riskHigh:riskN0High, riskLow:riskN0Low});
drawKm({id:'n1-3', x0:1260, sx:10.83, y1:1286.5, y0:1417, ax1:1543, ytx:1211, titleX:1247, titleY:1231, lx:1321, ly:1257, lh:1384, ll:1430, riskAxis:1503},
  {title:'Patients with N1\u22123', p:'p=0.227', ticks:kmTicks24, highT:n13HighT, highS:n13HighS, highC:n13HighC, lowT:n13LowT, lowS:n13LowS, lowC:n13LowC, riskHigh:riskN13High, riskLow:riskN13Low});
</script>
</body>
</html>
